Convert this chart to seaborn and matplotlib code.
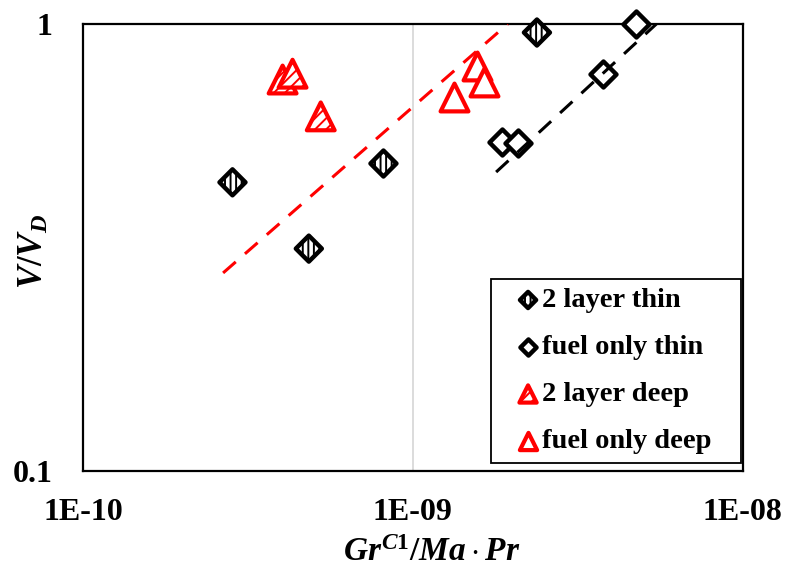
import numpy as np
import pandas as pd
import matplotlib
matplotlib.use("Agg")
import matplotlib.pyplot as plt
import seaborn as sns

# ---------------- data ----------------
thin2_x = [2.84e-10, 4.84e-10, 8.15e-10, 2.38e-9]
thin2_y = [0.442, 0.314, 0.487, 0.957]
fuel_thin_x = [1.86e-9, 2.09e-9, 3.78e-9, 4.77e-9]
fuel_thin_y = [0.545, 0.541, 0.773, 1.0]
deep2_x = [4.03e-10, 4.32e-10, 5.26e-10]
deep2_y = [0.751, 0.774, 0.621]
fuel_deep_x = [1.33e-9, 1.57e-9, 1.64e-9]
fuel_deep_y = [0.688, 0.804, 0.741]
trend_deep_x = [2.66e-10, 1.94e-9]
trend_deep_y = [0.277, 1.0]
trend_thin_x = [1.79e-9, 5.48e-9]
trend_thin_y = [0.466, 1.0]
series_labels = ["2 layer thin", "fuel only thin", "2 layer deep", "fuel only deep"]
x_ticks = [1e-10, 1e-9, 1e-8]
x_tick_labels = ["1E-10", "1E-09", "1E-08"]
y_ticks = [0.1, 1]
y_tick_labels = ["0.1", "1"]

# ---------------- style ----------------
sns.set_style("white")
plt.rcParams["font.family"] = ["Liberation Serif", "DejaVu Serif"]
plt.rcParams["font.weight"] = "bold"
plt.rcParams["text.color"] = "black"
plt.rcParams["axes.labelcolor"] = "black"
plt.rcParams["xtick.color"] = "black"
plt.rcParams["ytick.color"] = "black"
plt.rcParams["mathtext.fontset"] = "custom"
plt.rcParams["mathtext.it"] = "Liberation Serif:italic:bold"
plt.rcParams["mathtext.rm"] = "Liberation Serif:bold"
plt.rcParams["mathtext.bf"] = "Liberation Serif:bold"
plt.rcParams["hatch.linewidth"] = 1.4

fig = plt.figure(figsize=(7.92, 5.68), dpi=100)
ax = fig.add_axes([83 / 792, 1 - 470.5 / 568, 659.5 / 792, 446.5 / 568])

df_thin2 = pd.DataFrame({"x": thin2_x, "y": thin2_y})
df_fthin = pd.DataFrame({"x": fuel_thin_x, "y": fuel_thin_y})
df_deep2 = pd.DataFrame({"x": deep2_x, "y": deep2_y})
df_fdeep = pd.DataFrame({"x": fuel_deep_x, "y": fuel_deep_y})

sns.scatterplot(data=df_thin2, x="x", y="y", ax=ax, marker="D", s=175,
                color="white", edgecolor="black", linewidth=3.2,
                hatch="|||", clip_on=False, zorder=3, legend=False)
sns.scatterplot(data=df_fthin, x="x", y="y", ax=ax, marker="D", s=175,
                color="white", edgecolor="black", linewidth=3.2,
                clip_on=False, zorder=3, legend=False)
sns.scatterplot(data=df_deep2, x="x", y="y", ax=ax, marker="^", s=400,
                color="white", edgecolor="red", linewidth=3.0,
                hatch="///", clip_on=False, zorder=3, legend=False)
sns.scatterplot(data=df_fdeep, x="x", y="y", ax=ax, marker="^", s=400,
                color="white", edgecolor="red", linewidth=3.0,
                clip_on=False, zorder=3, legend=False)
handles = list(ax.collections[:4])

sns.lineplot(x=trend_deep_x, y=trend_deep_y, ax=ax, color="red",
             linewidth=2.2, linestyle=(0, (5.5, 4.0)), zorder=4)
sns.lineplot(x=trend_thin_x, y=trend_thin_y, ax=ax, color="black",
             linewidth=2.2, linestyle=(0, (5.5, 4.0)), zorder=4)

ax.set_xscale("log")
ax.set_yscale("log")
ax.set_xlim(1e-10, 1e-8)
ax.set_ylim(0.1, 1)
ax.minorticks_off()
ax.set_xticks(x_ticks)
ax.set_xticklabels(x_tick_labels)
ax.set_yticks(y_ticks)
ax.set_yticklabels(y_tick_labels)
ax.tick_params(axis="both", length=0, labelsize=23, colors="black")
ax.tick_params(axis="x", pad=20)
ax.tick_params(axis="y", pad=22)
for lab in ax.get_xticklabels() + ax.get_yticklabels():
    lab.set_fontweight("bold")

ax.grid(axis="x", which="major", color="#d9d9d9", linewidth=1.3, zorder=0)
ax.grid(axis="y", visible=False)
ax.set_axisbelow(True)
for sp in ax.spines.values():
    sp.set_visible(True)
    sp.set_color("black")
    sp.set_linewidth(1.6)

ax.set_xlabel(r"$Gr^{C1}/Ma\cdot Pr$", fontsize=24)
ax.set_ylabel(r"$V/V_D$", fontsize=25)
ax.xaxis.set_label_coords(0.529, -0.149)
ax.yaxis.set_label_coords(-0.048, 0.49)

leg = ax.legend(handles, series_labels, loc="lower left",
                bbox_to_anchor=(0.6187, 0.0168, 0.3793, 0.3), mode="expand",
                borderaxespad=0, markerscale=0.62, frameon=True,
                fancybox=False, edgecolor="black", framealpha=1,
                handlelength=2.0, handletextpad=-0.5, labelspacing=0.74,
                borderpad=0.3, prop={"weight": "bold", "size": 20.5})
leg.get_frame().set_linewidth(1.3)
leg.set_zorder(10)
for t in leg.get_texts():
    t.set_color("black")

fig.savefig("out.png", dpi=100)
